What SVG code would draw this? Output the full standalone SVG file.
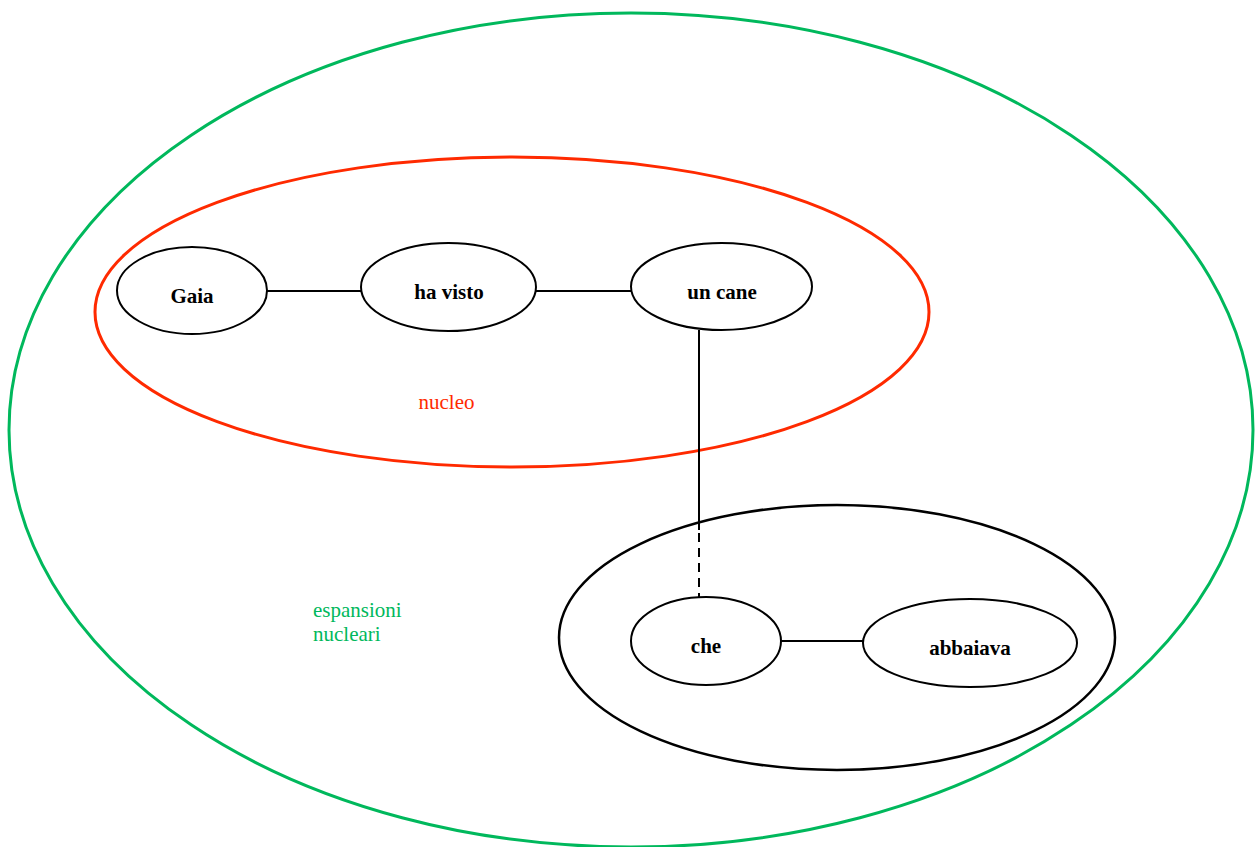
<svg xmlns="http://www.w3.org/2000/svg" width="1255" height="847" viewBox="0 0 1255 847">
<style>
.node{fill:#fff;stroke:#000;stroke-width:2}
.lbl{font-family:"Liberation Serif",serif;font-size:21px;font-weight:bold;text-anchor:middle;fill:#000}
.edge{stroke:#000;stroke-width:2;fill:none}
.grp{fill:none;stroke-width:3}
.glbl{font-family:"Liberation Serif",serif;font-size:21px}
</style>
<rect width="1255" height="847" fill="#fff"/>
<g id="group-espansioni">
<ellipse class="grp" cx="631" cy="430" rx="622" ry="417" stroke="#00b85c"/>
<text class="glbl" x="313" y="617" fill="#00b85c">espansioni</text>
<text class="glbl" x="313" y="641" fill="#00b85c">nucleari</text>
</g>
<g id="group-nucleo">
<ellipse class="grp" cx="512" cy="312" rx="417" ry="155" stroke="#ff2a00"/>
<text class="glbl" x="446.5" y="409" fill="#ff2a00" text-anchor="middle">nucleo</text>
</g>
<g id="group-relativa">
<ellipse cx="837" cy="637.5" rx="278" ry="132.5" fill="none" stroke="#000" stroke-width="2.5"/>
</g>
<g id="connectors">
<line class="edge" x1="267" y1="291" x2="361" y2="291"/>
<line class="edge" x1="536" y1="291" x2="631" y2="291"/>
<line class="edge" x1="699" y1="330" x2="699" y2="530"/>
<line class="edge" x1="699" y1="533" x2="699" y2="597" stroke-dasharray="9,6"/>
<line class="edge" x1="781" y1="641" x2="863" y2="641"/>
</g>
<g id="node-gaia">
<ellipse class="node" cx="192" cy="290.5" rx="75" ry="43.5"/>
<text class="lbl" x="192" y="303">Gaia</text>
</g>
<g id="node-havisto">
<ellipse class="node" cx="448.5" cy="287" rx="87.5" ry="44"/>
<text class="lbl" x="449" y="299">ha visto</text>
</g>
<g id="node-uncane">
<ellipse class="node" cx="721.5" cy="286.5" rx="90.5" ry="43.5"/>
<text class="lbl" x="722" y="299">un cane</text>
</g>
<g id="node-che">
<ellipse class="node" cx="706" cy="641" rx="75" ry="44"/>
<text class="lbl" x="706" y="653">che</text>
</g>
<g id="node-abbaiava">
<ellipse class="node" cx="970" cy="643" rx="107" ry="44"/>
<text class="lbl" x="970" y="655">abbaiava</text>
</g>
</svg>
